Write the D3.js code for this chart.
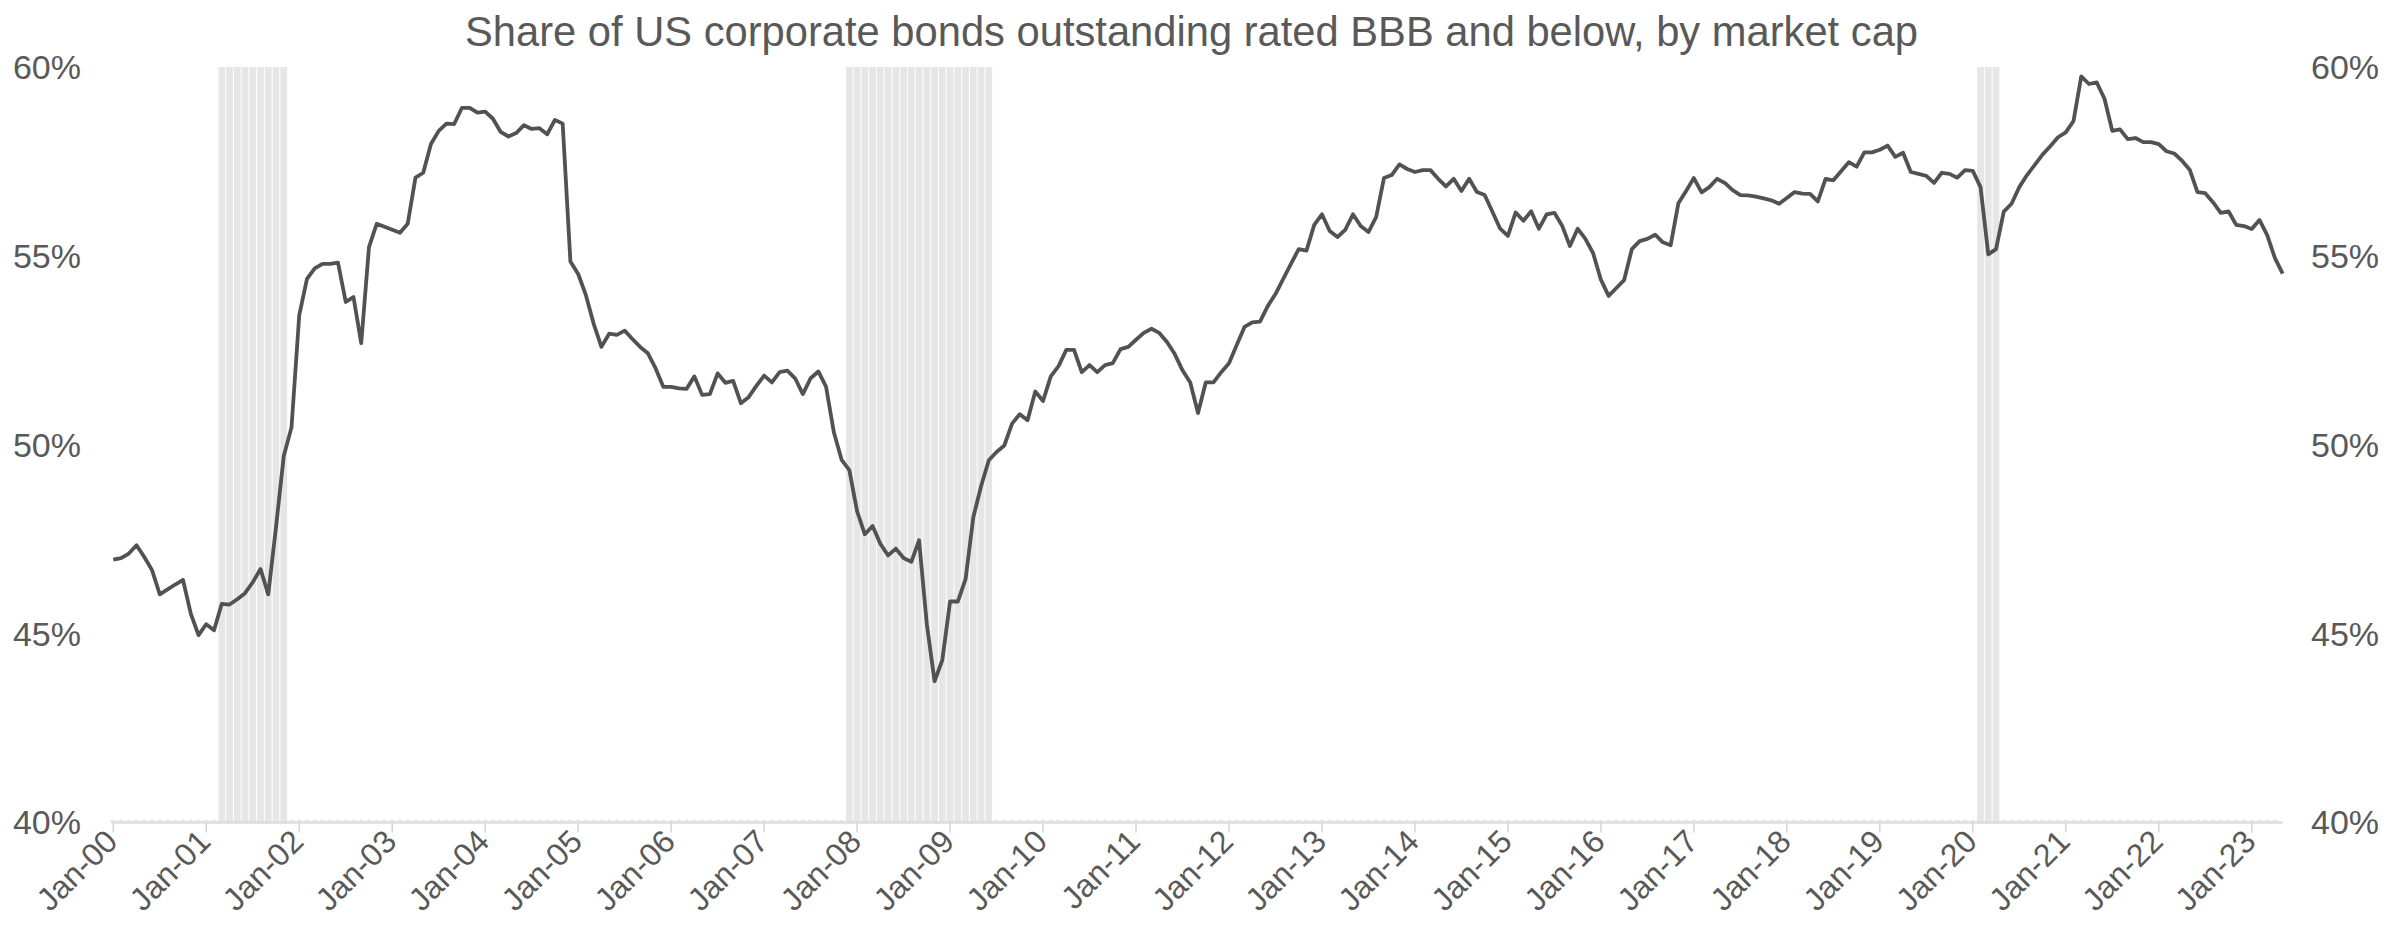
<!DOCTYPE html>
<html><head><meta charset="utf-8">
<script src="https://cdn.jsdelivr.net/npm/d3@7"></script>
<style>body{margin:0;background:#fff}svg{display:block}text{font-family:"Liberation Sans",Arial,sans-serif}</style>
</head><body><svg id="c" width="2389" height="942"></svg>
<script>
const title = "Share of US corporate bonds outstanding rated BBB and below, by market cap";
const startMonth = "2000-01";
// monthly share (%), Jan-2000 .. May-2023
const shareBBB = [
46.96,47.00,47.12,47.34,47.03,46.68,46.04,46.17,46.30,46.42,45.53,44.96,
45.25,45.09,45.79,45.77,45.91,46.07,46.36,46.71,46.04,47.82,49.70,50.46,
53.43,54.39,54.67,54.79,54.79,54.82,53.78,53.91,52.69,55.23,55.85,55.77,
55.69,55.61,55.85,57.07,57.20,57.96,58.31,58.50,58.49,58.92,58.92,58.79,
58.82,58.63,58.28,58.16,58.25,58.46,58.36,58.38,58.22,58.60,58.50,54.85,
54.52,53.96,53.20,52.59,52.94,52.91,53.02,52.80,52.59,52.42,52.02,51.53,
51.53,51.49,51.48,51.81,51.32,51.34,51.89,51.64,51.69,51.10,51.26,51.56,
51.83,51.65,51.92,51.96,51.76,51.34,51.76,51.94,51.53,50.33,49.60,49.33,
48.24,47.63,47.85,47.38,47.07,47.25,47.00,46.90,47.47,45.25,43.74,44.30,
45.85,45.85,46.44,48.08,48.90,49.59,49.81,49.98,50.56,50.81,50.65,51.41,
51.16,51.81,52.08,52.51,52.51,51.92,52.11,51.92,52.11,52.16,52.53,52.59,
52.78,52.96,53.07,52.96,52.72,52.40,51.97,51.65,50.84,51.65,51.65,51.92,
52.16,52.64,53.12,53.24,53.26,53.67,53.99,54.39,54.79,55.18,55.14,55.82,
56.10,55.66,55.50,55.69,56.10,55.79,55.63,56.03,57.06,57.14,57.42,57.30,
57.22,57.27,57.27,57.04,56.84,57.04,56.72,57.04,56.69,56.61,56.17,55.72,
55.53,56.15,55.93,56.18,55.72,56.10,56.14,55.80,55.26,55.72,55.45,55.07,
54.37,53.94,54.15,54.36,55.18,55.39,55.45,55.56,55.36,55.28,56.39,56.72,
57.06,56.68,56.82,57.04,56.93,56.74,56.61,56.60,56.57,56.52,56.47,56.38,
56.53,56.69,56.65,56.64,56.44,57.04,57.00,57.24,57.48,57.36,57.74,57.74,
57.81,57.92,57.62,57.73,57.22,57.17,57.12,56.93,57.20,57.17,57.07,57.27,
57.25,56.82,55.04,55.18,56.17,56.38,56.82,57.14,57.41,57.68,57.90,58.14,
58.27,58.57,59.75,59.55,59.59,59.16,58.31,58.35,58.09,58.12,58.01,58.01,
57.96,57.77,57.71,57.52,57.28,56.69,56.66,56.42,56.14,56.18,55.82,55.79,
55.71,55.95,55.55,54.94,54.53
];
const recessions = [["2001-03","2001-11"],["2007-12","2009-06"],["2020-02","2020-04"]];
const yTicks = [40,45,50,55,60];

const W = 2389, H = 942;
const L = 113.3, R = 2282.7, T = 67, B = 822.5;
const textCol = "#595959";
const svg = d3.select("#c");
const parse = d3.timeParse("%Y-%m");
const fmt = d3.timeFormat("%Y-%m");
const start = parse(startMonth);
const months = d3.timeMonth.range(start, d3.timeMonth.offset(start, shareBBB.length));
const data = months.map((d,i)=>({d, i, key: fmt(d), v: shareBBB[i]}));

const x = d3.scaleLinear().domain([0, data.length-1]).range([L, R]);
const y = d3.scaleLinear().domain([40,60]).range([B, T]);
const step = x(1) - x(0);

const inRec = new Set();
recessions.forEach(([a,b])=>{
  d3.timeMonth.range(parse(a), d3.timeMonth.offset(parse(b),1)).forEach(m=>inRec.add(fmt(m)));
});

// recession columns
svg.append("g").selectAll("rect").data(data.filter(d=>inRec.has(d.key))).join("rect")
  .attr("x", d=>x(d.i)-step/2+0.5).attr("width", step-1)
  .attr("y", y(60)).attr("height", y(40)-y(60))
  .attr("fill", "#e6e6e6");

// baseline
svg.append("line").attr("x1", L).attr("x2", R).attr("y1", B).attr("y2", B)
  .attr("stroke", "#dcdcdc").attr("stroke-width", 2.5);
svg.append("g").selectAll("rect").data(data.filter(d=>!inRec.has(d.key) && d.i < data.length-1)).join("rect")
  .attr("x", d=>x(d.i)-step/2+1).attr("width", step-2)
  .attr("y", B-2.5).attr("height", 3.5).attr("rx", 1.7)
  .attr("fill", "#e2e2e2");

// x axis ticks & labels
const janIdx = data.filter(d=>d.d.getMonth()===0);
const xa = svg.append("g");
xa.selectAll("line").data(janIdx).join("line")
  .attr("x1", d=>x(d.i)).attr("x2", d=>x(d.i)).attr("y1", B).attr("y2", B+10)
  .attr("stroke", "#d4d4d4").attr("stroke-width", 1.5);
xa.selectAll("text").data(janIdx).join("text")
  .attr("transform", d=>`translate(${x(d.i)+6},${B+21}) rotate(-45)`)
  .attr("text-anchor", "end").attr("font-size", 32).attr("fill", textCol)
  .text(d=>d3.timeFormat("%b-%y")(d.d));

// y labels both sides
const ya = svg.append("g");
ya.selectAll("text.l").data(yTicks).join("text").attr("class","l")
  .attr("x", 81).attr("y", d=>y(d)).attr("dy", "0.35em").attr("text-anchor","end")
  .attr("font-size", 34).attr("fill", textCol).text(d=>d+"%");
ya.selectAll("text.r").data(yTicks).join("text").attr("class","r")
  .attr("x", 2311).attr("y", d=>y(d)).attr("dy", "0.35em").attr("text-anchor","start")
  .attr("font-size", 34).attr("fill", textCol).text(d=>d+"%");

// line
svg.append("path").datum(data)
  .attr("fill","none").attr("stroke","#525252").attr("stroke-width",3.8)
  .attr("stroke-linejoin","round")
  .attr("d", d3.line().x(d=>x(d.i)).y(d=>y(d.v)));

// title
svg.append("text").attr("x", (466+1917)/2).attr("y", 46).attr("text-anchor","middle")
  .attr("font-size", 41.7).attr("fill", textCol).text(title);
</script></body></html>
